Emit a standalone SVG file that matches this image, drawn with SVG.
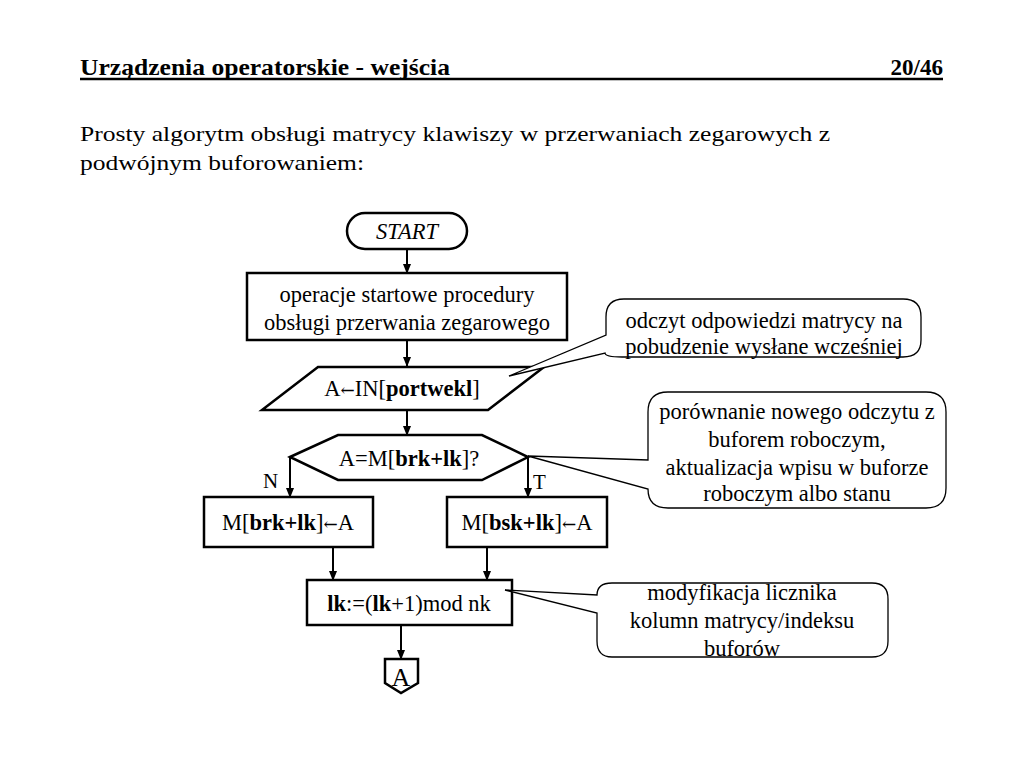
<svg xmlns="http://www.w3.org/2000/svg" width="1024" height="768" viewBox="0 0 1024 768">
<defs>
<marker id="arr" markerWidth="10" markerHeight="10" refX="9" refY="5" orient="auto" markerUnits="userSpaceOnUse">
<path d="M0,1 L10,5 L0,9 Z" fill="#000"/>
</marker>
<style>
.t{font-family:"Liberation Serif","Times New Roman",serif;fill:#000}
.f{font-size:22.5px}
.a{font-family:"DejaVu Serif",serif;font-size:17px}
.s{fill:#fff;stroke:#000;stroke-width:2.5}
.c{fill:#fff;stroke:#000;stroke-width:1.3}
.l{stroke:#000;stroke-width:2;fill:none}
</style>
</defs>
<rect width="1024" height="768" fill="#fff"/>
<g id="header">
<text class="t" x="80" y="75" font-size="23" font-weight="bold" textLength="370" lengthAdjust="spacingAndGlyphs">Urządzenia operatorskie - wejścia</text>
<text class="t" x="943" y="75" font-size="23" font-weight="bold" text-anchor="end">20/46</text>
<line x1="80" y1="79" x2="943" y2="79" stroke="#000" stroke-width="2.5"/>
<text class="t" x="80" y="141" font-size="22" textLength="750" lengthAdjust="spacingAndGlyphs">Prosty algorytm obsługi matrycy klawiszy w przerwaniach zegarowych z</text>
<text class="t" x="80" y="170" font-size="22" textLength="284" lengthAdjust="spacingAndGlyphs">podwójnym buforowaniem:</text>
</g>
<g id="connectors">
<line class="l" x1="407" y1="249" x2="407" y2="273" marker-end="url(#arr)"/>
<line class="l" x1="407" y1="340" x2="407" y2="366" marker-end="url(#arr)"/>
<line class="l" x1="407" y1="410" x2="407" y2="435" marker-end="url(#arr)"/>
<line class="l" x1="290" y1="457" x2="290" y2="497" marker-end="url(#arr)"/>
<line class="l" x1="528" y1="457" x2="528" y2="497" marker-end="url(#arr)"/>
<line class="l" x1="333" y1="547" x2="333" y2="580" marker-end="url(#arr)"/>
<line class="l" x1="487" y1="547" x2="487" y2="580" marker-end="url(#arr)"/>
<line class="l" x1="401" y1="625" x2="401" y2="659" marker-end="url(#arr)"/>
<text class="t" x="263" y="488" font-size="21">N</text>
<text class="t" x="533" y="489" font-size="21">T</text>
</g>
<g id="start">
<rect class="s" x="347" y="213" width="120" height="36" rx="18"/>
<text class="t f" x="407" y="239" font-style="italic" text-anchor="middle">START</text>
</g>
<g id="init">
<rect class="s" x="247" y="273" width="320" height="67"/>
<text class="t f" x="407" y="302" text-anchor="middle">operacje startowe procedury</text>
<text class="t f" x="407" y="330" text-anchor="middle">obsługi przerwania zegarowego</text>
</g>
<g id="input">
<polygon class="s" points="318,367 544,367 488,410 262,410"/>
<text class="t f" x="402" y="396" text-anchor="middle">A<tspan class="a">←</tspan>IN[<tspan font-weight="bold">portwekl</tspan>]</text>
</g>
<g id="decision">
<polygon class="s" points="290,457 338,435 482,435 528,457 482,480 338,480"/>
<text class="t f" x="409" y="466" text-anchor="middle">A=M[<tspan font-weight="bold">brk+lk</tspan>]?</text>
</g>
<g id="assignN">
<rect class="s" x="204" y="497" width="169" height="50"/>
<text class="t f" x="288" y="530" text-anchor="middle">M[<tspan font-weight="bold">brk+lk</tspan>]<tspan class="a">←</tspan>A</text>
</g>
<g id="assignT">
<rect class="s" x="447" y="497" width="160" height="50"/>
<text class="t f" x="527" y="530" text-anchor="middle">M[<tspan font-weight="bold">bsk+lk</tspan>]<tspan class="a">←</tspan>A</text>
</g>
<g id="increment">
<rect class="s" x="307" y="580" width="205" height="45"/>
<text class="t f" x="409" y="611" text-anchor="middle"><tspan font-weight="bold">lk</tspan>:=(<tspan font-weight="bold">lk</tspan>+1)mod nk</text>
</g>
<g id="offpage">
<polygon class="s" points="385,659 418,659 418,683 401,693 385,683"/>
<text class="t" x="401" y="686" font-size="26" text-anchor="middle">A</text>
</g>
<g id="note1">
<path class="c" d="M624,299 H903 Q921,299 921,317 V340 Q921,357 903,357 H622 Q605,357 605,353 L509,376 L606,335 V317 Q606,299 624,299 Z"/>
<text class="t f" x="764" y="328" text-anchor="middle">odczyt odpowiedzi matrycy na</text>
<text class="t f" x="764" y="354" text-anchor="middle">pobudzenie wysłane wcześniej</text>
</g>
<g id="note2">
<path class="c" d="M668,392 H926 Q946,392 946,412 V488 Q946,508 926,508 H668 Q648,508 648,489 L528,456 L648,460 V412 Q648,392 668,392 Z"/>
<text class="t f" x="797" y="419" text-anchor="middle">porównanie nowego odczytu z</text>
<text class="t f" x="797" y="447" text-anchor="middle">buforem roboczym,</text>
<text class="t f" x="797" y="475" text-anchor="middle">aktualizacja wpisu w buforze</text>
<text class="t f" x="797" y="501" text-anchor="middle">roboczym albo stanu</text>
</g>
<g id="note3">
<path class="c" d="M612,583 H872 Q888,583 888,599 V641 Q888,657 872,657 H612 Q597,657 597,641 V613 L505,590 L597,595 Q597,583 612,583 Z"/>
<text class="t f" x="742" y="600" text-anchor="middle">modyfikacja licznika</text>
<text class="t f" x="742" y="628" text-anchor="middle">kolumn matrycy/indeksu</text>
<text class="t f" x="742" y="656" text-anchor="middle">buforów</text>
</g>
</svg>
